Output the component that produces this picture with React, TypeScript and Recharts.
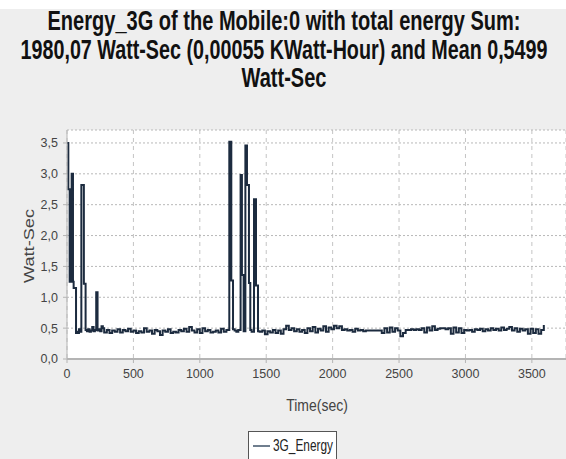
import { CartesianGrid, Line, LineChart, XAxis, YAxis } from "recharts";

// [time (sec), energy (Watt-Sec)] samples
const startBurst: Array<[number, number]> = [
	[0, 3.5], [10, 2.75], [20, 1.25], [35, 3.0], [45, 1.25], [50, 1.15],
	[68, 0.42], [75, 0.44], [82, 0.42], [90, 0.48], [98, 0.44],
	[108, 2.82], [127, 1.22], [140, 0.47], [150, 0.45], [160, 0.48],
	[170, 0.44], [180, 0.46], [190, 0.52], [200, 0.45], [210, 0.47],
	[220, 1.08], [230, 0.46], [240, 0.48], [250, 0.45], [260, 0.53],
	[270, 0.5], [280, 0.43],
];

const idleEarly: Array<[number, number]> = [
	[300, 0.47], [320, 0.42], [340, 0.46], [360, 0.44], [380, 0.48],
	[400, 0.43], [420, 0.47], [440, 0.45], [460, 0.49], [480, 0.44],
	[500, 0.46], [520, 0.42], [540, 0.45], [560, 0.43], [580, 0.5],
	[600, 0.44], [620, 0.46], [640, 0.41], [660, 0.47], [680, 0.45],
	[700, 0.39], [720, 0.46], [740, 0.44], [760, 0.48], [780, 0.42],
	[800, 0.44], [820, 0.43], [840, 0.47], [860, 0.45], [880, 0.49],
	[900, 0.44], [920, 0.52], [940, 0.46], [960, 0.43], [980, 0.48],
	[1000, 0.42], [1020, 0.5], [1040, 0.45], [1060, 0.47], [1080, 0.43],
	[1100, 0.44], [1120, 0.46], [1140, 0.43], [1160, 0.49], [1180, 0.44],
	[1200, 0.47],
];

const midBurst: Array<[number, number]> = [
	[1222, 3.52], [1237, 1.27], [1250, 0.48], [1262, 0.46], [1275, 0.44],
	[1290, 0.47], [1307, 2.98], [1317, 1.36], [1330, 0.45], [1343, 3.46],
	[1355, 2.82], [1370, 1.23], [1380, 0.47], [1390, 0.44], [1408, 2.59],
	[1423, 1.19], [1438, 0.45],
];

const idleLate: Array<[number, number]> = [
	[1450, 0.44], [1470, 0.46], [1490, 0.4], [1510, 0.45], [1530, 0.43],
	[1550, 0.47], [1570, 0.42], [1590, 0.46], [1610, 0.41], [1630, 0.48],
	[1650, 0.54], [1670, 0.47], [1690, 0.5], [1710, 0.45], [1730, 0.48],
	[1750, 0.44], [1770, 0.47], [1790, 0.42], [1810, 0.5], [1830, 0.45],
	[1850, 0.52], [1870, 0.43], [1890, 0.49], [1910, 0.46], [1930, 0.53],
	[1950, 0.44], [1970, 0.51], [1990, 0.48], [2010, 0.54], [2030, 0.5],
	[2050, 0.53], [2070, 0.47], [2090, 0.48], [2110, 0.46], [2130, 0.47],
	[2150, 0.44], [2170, 0.49], [2190, 0.46], [2210, 0.47], [2230, 0.45],
	[2250, 0.46], [2270, 0.46], [2290, 0.46], [2310, 0.46], [2330, 0.46],
	[2350, 0.46], [2370, 0.42], [2390, 0.5], [2410, 0.43], [2430, 0.51],
	[2450, 0.44], [2470, 0.5], [2490, 0.46], [2510, 0.37], [2530, 0.42],
	[2550, 0.47], [2570, 0.47], [2590, 0.48], [2610, 0.47], [2630, 0.48],
	[2650, 0.47], [2670, 0.5], [2690, 0.43], [2710, 0.51], [2730, 0.46],
	[2750, 0.53], [2770, 0.47], [2790, 0.49], [2810, 0.5], [2830, 0.5],
	[2850, 0.48], [2870, 0.5], [2890, 0.41], [2910, 0.51], [2930, 0.43],
	[2950, 0.5], [2970, 0.42], [2990, 0.47], [3010, 0.46], [3030, 0.47],
	[3050, 0.44], [3070, 0.48], [3090, 0.47], [3110, 0.49], [3130, 0.45],
	[3150, 0.48], [3170, 0.46], [3190, 0.5], [3210, 0.47], [3230, 0.49],
	[3250, 0.46], [3270, 0.51], [3290, 0.47], [3310, 0.49], [3330, 0.52],
	[3350, 0.46], [3370, 0.5], [3390, 0.44], [3410, 0.49], [3430, 0.46],
	[3450, 0.48], [3470, 0.41], [3490, 0.49], [3510, 0.42], [3530, 0.48],
	[3550, 0.41], [3570, 0.47], [3590, 0.55],
];

const xTicks = [0, 500, 1000, 1500, 2000, 2500, 3000, 3500];
const yTicks = [0, 0.5, 1, 1.5, 2, 2.5, 3, 3.5];

const titleLines = [
	"Energy_3G of the Mobile:0 with total energy Sum:",
	"1980,07 Watt-Sec (0,00055 KWatt-Hour) and Mean 0,5499",
	"Watt-Sec",
];

const data = [...startBurst, ...idleEarly, ...midBurst, ...idleLate].map(
	([t, v]) => ({ t, v }),
);

const font = "'Liberation Sans', Arial, Helvetica, sans-serif";
const tickStyle = { fill: "#444", fontSize: 12.5, fontFamily: font };

// baseline and forced width of each title line (0 = natural width)
const titleBaselines = [30, 59, 87];
const titleWidths = [473, 527, 0];

export default function App() {
	return (
		<div
			style={{
				position: "absolute",
				left: 0,
				top: 0,
				width: 566,
				height: 459,
				background: "#eeeeee",
				overflow: "hidden",
			}}
		>
			<div
				style={{
					position: "absolute",
					left: 0,
					top: 0,
					width: 566,
					height: 9,
					background: "#fff",
				}}
			/>
			<LineChart
				width={566}
				height={459}
				data={data}
				margin={{ top: 130, right: 0, left: 0, bottom: 80 }}
				style={{ position: "absolute", left: 0, top: 0 }}
			>
				<CartesianGrid
					horizontal={false}
					stroke="#c4c4c4"
					strokeDasharray="4 4"
					fill="#ffffff"
				/>
				<CartesianGrid
					vertical={false}
					stroke="#b8b8b8"
					strokeDasharray="2 2"
				/>
				<XAxis
					dataKey="t"
					type="number"
					domain={[0, 3757]}
					ticks={xTicks}
					allowDataOverflow
					height={20}
					tick={tickStyle}
					tickSize={4}
					tickMargin={6}
					stroke="#b4b4b4"
					axisLine={{ stroke: "#b4b4b4", strokeWidth: 2 }}
				/>
				<YAxis
					type="number"
					domain={[0, 3.71]}
					ticks={yTicks}
					allowDataOverflow
					width={67}
					tick={tickStyle}
					tickSize={4}
					tickMargin={5}
					stroke="#b4b4b4"
					tickFormatter={(v: number) => v.toFixed(1).replace(".", ",")}
				/>
				<Line
					type="stepAfter"
					dataKey="v"
					stroke="#1c2b3f"
					strokeWidth={2}
					dot={false}
					isAnimationActive={false}
				/>
			</LineChart>
			<svg
				width={566}
				height={459}
				style={{ position: "absolute", left: 0, top: 0, pointerEvents: "none" }}
				fontFamily={font}
			>
				{titleLines.map((line, i) => (
					<text
						key={line}
						transform={`translate(284 ${titleBaselines[i]}) scale(1 1.35)`}
						x={0}
						y={0}
						textAnchor="middle"
						textLength={titleWidths[i] || undefined}
						lengthAdjust={titleWidths[i] ? "spacingAndGlyphs" : undefined}
						fontSize={20}
						fontWeight="bold"
						fill="#111"
					>
						{line}
					</text>
				))}
				<text
					transform="translate(34 246) rotate(-90) scale(1.3 1)"
					textAnchor="middle"
					x={0}
					y={0}
					fontSize={14}
					fill="#444"
				>
					Watt-Sec
				</text>
				<text
					transform="translate(317 411) scale(1 1.2)"
					x={0}
					y={0}
					textAnchor="middle"
					fontSize={14}
					fill="#444"
				>
					Time(sec)
				</text>
				<rect x={248.5} y={431.5} width={88} height={40} fill="#fff" stroke="#555" />
				<line x1={253} x2={270} y1={446} y2={446} stroke="#6f7e8e" strokeWidth={2} />
				<text
					transform="translate(273 451) scale(1 1.25)"
					x={0}
					y={0}
					textLength={60}
					lengthAdjust="spacingAndGlyphs"
					fontSize={13}
					fill="#222"
				>
					3G_Energy
				</text>
			</svg>
		</div>
	);
}
